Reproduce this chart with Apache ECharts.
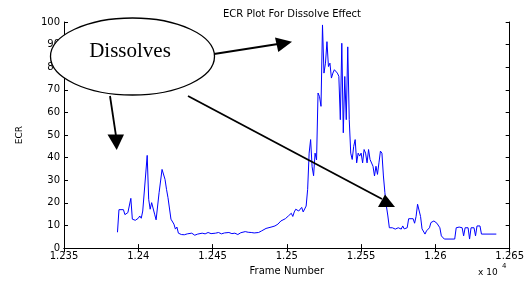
<!DOCTYPE html>
<html>
<head>
<meta charset="utf-8">
<script src="https://cdn.jsdelivr.net/npm/echarts@6/dist/echarts.min.js"></script>
<style>
  html, body { margin: 0; padding: 0; background: #fff; }
  #chart { width: 527px; height: 281px; }
</style>
</head>
<body>
<div id="chart"></div>
<script>
// frame numbers and ECR values
const frames = [
    12386, 12387, 12390, 12391, 12393, 12395, 12396, 12398, 12400, 12401, 12402, 12403,
    12406, 12407, 12408, 12409, 12410, 12411, 12412, 12414, 12416, 12418, 12419, 12420,
    12421, 12422, 12424, 12425, 12426, 12427, 12429, 12431, 12433, 12436, 12438, 12440,
    12443, 12445, 12447, 12449, 12452, 12454, 12456, 12458, 12461, 12463, 12465, 12467,
    12469, 12472, 12474, 12476, 12478, 12481, 12483, 12484, 12486, 12487, 12490, 12492,
    12494, 12496, 12497, 12499, 12501, 12502, 12503, 12504, 12505, 12506, 12508, 12509,
    12510, 12511, 12512, 12513, 12514, 12515, 12516, 12517, 12518, 12519, 12520, 12521,
    12522, 12523, 12524, 12525, 12526, 12527, 12528, 12529, 12530, 12531, 12532, 12533,
    12534, 12535, 12536, 12537, 12538, 12539, 12540, 12541, 12542, 12543, 12544, 12545,
    12546, 12547, 12548, 12549, 12550, 12551, 12552, 12553, 12554, 12555, 12556, 12558,
    12559, 12560, 12561, 12562, 12563, 12564, 12565, 12566, 12567, 12568, 12569, 12571,
    12573, 12575, 12576, 12577, 12578, 12579, 12581, 12582, 12583, 12585, 12586, 12587,
    12588, 12590, 12591, 12593, 12594, 12596, 12597, 12599, 12601, 12603, 12604, 12606,
    12613, 12614, 12616, 12618, 12619, 12620, 12622, 12623, 12624, 12626, 12627, 12628,
    12630, 12631, 12641
]
const ecr = [
    7, 17, 17, 14.8, 15.7, 22, 12.8, 12.3, 13.2, 14.2, 13.2, 16.4,
    41, 21.6, 17.2, 20.1, 19.4, 15, 12.5, 24.5, 34.8, 30.4, 26, 22.3,
    21.6, 12.8, 10.6, 8.4, 9.3, 6.6, 6, 5.9, 6.3, 6.6, 5.7, 6.2,
    6.6, 6.3, 6.9, 6.4, 6.6, 6.9, 6.3, 6.7, 6.9, 6.4, 6.6, 6,
    6.8, 7.3, 7, 6.9, 6.7, 6.9, 7.6, 8.4, 8.7, 9.1, 9.4, 9.8,
    10.6, 12, 11.6, 13, 14.2, 14.5, 15.4, 14, 16, 17.2, 16.4, 17,
    18, 16, 16, 18.6, 26, 42, 48, 36, 32, 42, 39, 68.6,
    67, 62.7, 98.7, 77.4, 81.8, 91.3, 80.3, 81.8, 75.2, 77.4, 78.9, 78.1,
    77.4, 76, 56.8, 90.6, 51, 75.9, 56.8, 89, 56.8, 42, 39.2, 45,
    48, 37.7, 42, 40.7, 42, 37.7, 43.6, 42, 37.7, 43.6, 39.2, 36.2,
    31.9, 36.2, 32.6, 37.7, 42.9, 42, 31.9, 24.5, 18.6, 14.2, 9, 9,
    8.4, 9, 8.5, 8.4, 9.8, 8.5, 9, 13, 12.5, 13, 11, 14,
    19.4, 14, 8.5, 6.2, 7.6, 9, 11.3, 12, 11, 9, 5.4, 4,
    4, 9, 9.3, 9, 5.4, 9, 9, 4, 9, 9, 5.4, 9.8,
    9.8, 6.2, 6.2
]
const xTickLabels = ['1.235', '1.24', '1.245', '1.25', '1.255', '1.26', '1.265']
const xMin = 12350
const xMax = 12650
const xStep = 50

const labelFont = 'DejaVu Sans'

var myChart = echarts.init(document.getElementById('chart'))

const boxAxis = {
    axisLine: { show: true, lineStyle: { color: '#000', width: 1 } },
    axisTick: { show: true, inside: true, length: 4, lineStyle: { color: '#000' } },
    splitLine: { show: false }
}

var option = {
    animation: false,
    backgroundColor: '#fff',
    title: {
        text: 'ECR Plot For Dissolve Effect',
        left: 287,
        top: 4,
        textAlign: 'center',
        textStyle: { fontFamily: labelFont, fontSize: 10, fontWeight: 'normal', color: '#000' }
    },
    grid: { left: 64, right: 17, top: 22, bottom: 32 },
    xAxis: [
        Object.assign({}, boxAxis, {
            type: 'value',
            position: 'bottom',
            min: xMin, max: xMax, interval: xStep,
            name: 'Frame Number',
            nameLocation: 'middle',
            nameGap: 15,
            nameTextStyle: { fontFamily: labelFont, fontSize: 10, color: '#000' },
            axisLabel: {
                margin: 3,
                fontFamily: labelFont, fontSize: 10, color: '#000',
                formatter: v => xTickLabels[Math.round((v - xMin) / xStep)]
            }
        }),
        Object.assign({}, boxAxis, {
            type: 'value',
            position: 'top',
            min: xMin, max: xMax, interval: xStep,
            axisLabel: { show: false }
        })
    ],
    yAxis: [
        Object.assign({}, boxAxis, {
            type: 'value',
            position: 'left',
            min: 0, max: 100, interval: 10,
            name: 'ECR',
            nameLocation: 'middle',
            nameRotate: 90,
            nameGap: 40,
            nameTextStyle: { fontFamily: labelFont, fontSize: 9, color: '#000' },
            axisLabel: { margin: 4, fontFamily: labelFont, fontSize: 10, color: '#000' }
        }),
        Object.assign({}, boxAxis, {
            type: 'value',
            position: 'right',
            min: 0, max: 100, interval: 10,
            axisLabel: { show: false }
        })
    ],
    series: [
        {
            type: 'line',
            xAxisIndex: 0,
            yAxisIndex: 0,
            data: frames.map((f, i) => [f, ecr[i]]),
            showSymbol: false,
            symbol: 'none',
            lineStyle: { color: '#0000ff', width: 1 }
        }
    ],
    graphic: [
        // arrows
        { type: 'line', z: 100, shape: { x1: 110, y1: 96, x2: 116, y2: 136 }, style: { stroke: '#000', lineWidth: 1.8 } },
        { type: 'polygon', z: 100, shape: { points: [[107.5, 134.5], [124, 134.5], [116.7, 150]] }, style: { fill: '#000' } },
        { type: 'line', z: 100, shape: { x1: 214, y1: 54, x2: 278, y2: 44 }, style: { stroke: '#000', lineWidth: 1.8 } },
        { type: 'polygon', z: 100, shape: { points: [[275, 37.5], [292, 41.7], [278.3, 52]] }, style: { fill: '#000' } },
        { type: 'line', z: 100, shape: { x1: 188, y1: 96, x2: 382, y2: 199 }, style: { stroke: '#000', lineWidth: 1.8 } },
        { type: 'polygon', z: 100, shape: { points: [[378, 207], [385, 194.5], [395, 207]] }, style: { fill: '#000' } },
        // the callout
        { type: 'ellipse', z: 101, shape: { cx: 132.5, cy: 56.5, rx: 82, ry: 38.5 }, style: { fill: '#fff', stroke: '#000', lineWidth: 1.3 } },
        {
            type: 'text', z: 102, x: 130, y: 51,
            style: { text: 'Dissolves', fill: '#000', font: '21px "Liberation Serif"', textAlign: 'center', textVerticalAlign: 'middle' }
        },
        // exponent note under the x axis
        { type: 'text', z: 100, x: 478, y: 268, style: { text: 'x 10', fill: '#000', font: '9px "DejaVu Sans"' } },
        { type: 'text', z: 100, x: 502, y: 263, style: { text: '4', fill: '#000', font: '7px "DejaVu Sans"' } }
    ]
}
myChart.setOption(option)
</script>
</body>
</html>
